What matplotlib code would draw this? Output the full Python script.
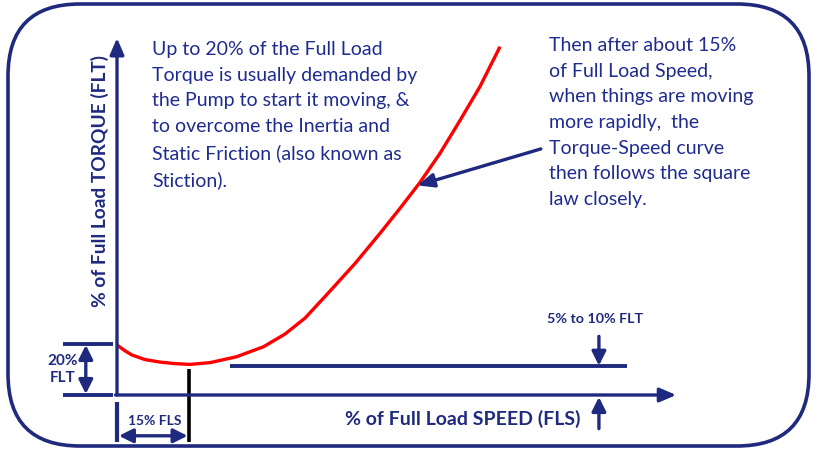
import matplotlib.pyplot as plt
from matplotlib.patches import FancyBboxPatch
from matplotlib.transforms import Affine2D

NAVY = "#1f2a7f"
TEXT_BLUE = "#1f2c8f"
RED = "#ff0000"

W, H = 818, 458

# torque-speed curve of the pump (% of full load speed, % of full load torque)
speed_pct = [0.0, 1.7, 3.1, 5.8, 9.0, 12.1, 15.2, 19.4, 24.9, 30.5, 35.0,
             39.2, 44.4, 49.6, 54.8, 59.0, 63.1, 67.3, 71.5, 75.6, 79.8]
torque_pct = [19.6, 17.3, 15.7, 13.9, 12.9, 12.3, 12.0, 12.7, 15.0, 18.9, 23.9,
              30.2, 40.8, 51.6, 63.4, 73.3, 83.3, 94.8, 107.8, 120.9, 136.6]

start_torque = 20.0        # breakaway torque marker
start_speed = 15.0         # speed after which square law holds
running_torque = 11.5      # 5% to 10% FLT band
running_span = (23.5, 106.2)
marker_speed = 100.4
axis_top = 140.0
axis_right = 116.5

# pixel scale of the drawing
ORIGIN = (117, 395)
PX_SPEED = 4.8
PX_TORQUE = 2.55

fig = plt.figure(figsize=(W / 100, H / 100), dpi=100)
ax = fig.add_axes((0, 0, 1, 1))
ax.set_xlim(-ORIGIN[0] / PX_SPEED, (W - ORIGIN[0]) / PX_SPEED)
ax.set_ylim(-(H - ORIGIN[1]) / PX_TORQUE, ORIGIN[1] / PX_TORQUE)
ax.axis("off")

# pixel transform for the frame and text blocks
px = Affine2D().scale(1 / W, -1 / H).translate(0, 1) + fig.transFigure

frame = FancyBboxPatch((8 + 72, 4 + 72), 801 - 144, 442 - 144,
                       boxstyle="round,pad=72", transform=px,
                       fill=False, ec=NAVY, lw=2.6)
ax.add_patch(frame)

font = ["Lato", "DejaVu Sans"]
head = dict(color=NAVY, lw=2.4, shrinkA=0, shrinkB=0,
            mutation_scale=14)

# axes with arrows
ax.annotate("", xy=(0, axis_top), xytext=(0, 0),
            arrowprops=dict(arrowstyle="-|>,head_width=0.3,head_length=0.7", **head))
ax.annotate("", xy=(axis_right, 0), xytext=(-0.3, 0),
            arrowprops=dict(arrowstyle="-|>,head_width=0.3,head_length=0.7", **head))

# red curve
ax.plot(speed_pct, torque_pct, color=RED, lw=2.4, solid_capstyle="butt",
        solid_joinstyle="round")

# running torque band line
ax.plot(running_span, [running_torque, running_torque], color=NAVY, lw=2.8,
        solid_capstyle="butt")
ax.annotate("", xy=(marker_speed, running_torque), xytext=(marker_speed, running_torque + 11.5),
            arrowprops=dict(arrowstyle="-|>,head_width=0.3,head_length=0.6", **head))
ax.annotate("", xy=(marker_speed, -0.8), xytext=(marker_speed, -13.2),
            arrowprops=dict(arrowstyle="-|>,head_width=0.3,head_length=0.6", **head))
ax.text(marker_speed - 0.8, running_torque + 16, "5% to 10% FLT", ha="center", va="bottom",
        fontsize=10.3, fontweight="bold", color=NAVY, family=font)

# 20% FLT marker
for t in (start_torque, 0):
    ax.plot([-11.3, -0.8], [t, t], color=NAVY, lw=2.8, solid_capstyle="butt")
ax.annotate("", xy=(-6.5, 0.4), xytext=(-6.5, start_torque - 0.4),
            arrowprops=dict(arrowstyle="<|-|>,head_width=0.3,head_length=0.6", **head))
ax.text(-11.3, 10, "20%\nFLT", ha="center", va="center", fontsize=11,
        fontweight="bold", color=NAVY, family=font, linespacing=1.25)

# 15% FLS marker
ax.plot([0, 0], [-2.6, -18.3], color=NAVY, lw=3, solid_capstyle="butt")
ax.plot([start_speed, start_speed], [torque_pct[6] - 1.8, -18.3], color="black", lw=2.6,
        solid_capstyle="butt")
ax.annotate("", xy=(0.4, -16), xytext=(start_speed - 0.3, -16),
            arrowprops=dict(arrowstyle="<|-|>,head_width=0.3,head_length=0.6", **head))
ax.text(start_speed / 2 + 0.3, -10.2, "15% FLS", ha="center", va="center", fontsize=10,
        fontweight="bold", color=NAVY, family=font)

# axis titles
ax.text(72.0, -9.2, "% of Full Load SPEED (FLS)", ha="center", va="center",
        fontsize=14, fontweight="bold", color=NAVY, family=font)
ax.text(-3.6, 84.0, "% of Full Load TORQUE (FLT)", ha="center", va="center",
        rotation=90, fontsize=13.8, fontweight="bold", color=NAVY, family=font)

# annotation arrow onto the curve
ax.annotate("", xy=(62.6, 82.2), xytext=(88.3, 96.5),
            arrowprops=dict(arrowstyle="-|>,head_width=0.3,head_length=0.7", **head))

note_left = ("Up to 20% of the Full Load\nTorque is usually demanded by\n"
             "the Pump to start it moving, &\nto overcome the Inertia and\n"
             "Static Friction (also known as\nStiction).")
note_right = ("Then after about 15%\nof Full Load Speed,\nwhen things are moving\n"
              "more rapidly,  the\nTorque-Speed curve\nthen follows the square\n"
              "law closely.")
ax.text(152, 41, note_left, transform=px, ha="left", va="top", fontsize=14,
        color=TEXT_BLUE, family=font, linespacing=1.62)
ax.text(549, 37, note_right, transform=px, ha="left", va="top", fontsize=14,
        color=TEXT_BLUE, family=font, linespacing=1.62)

fig.savefig("out.png", dpi=100)
